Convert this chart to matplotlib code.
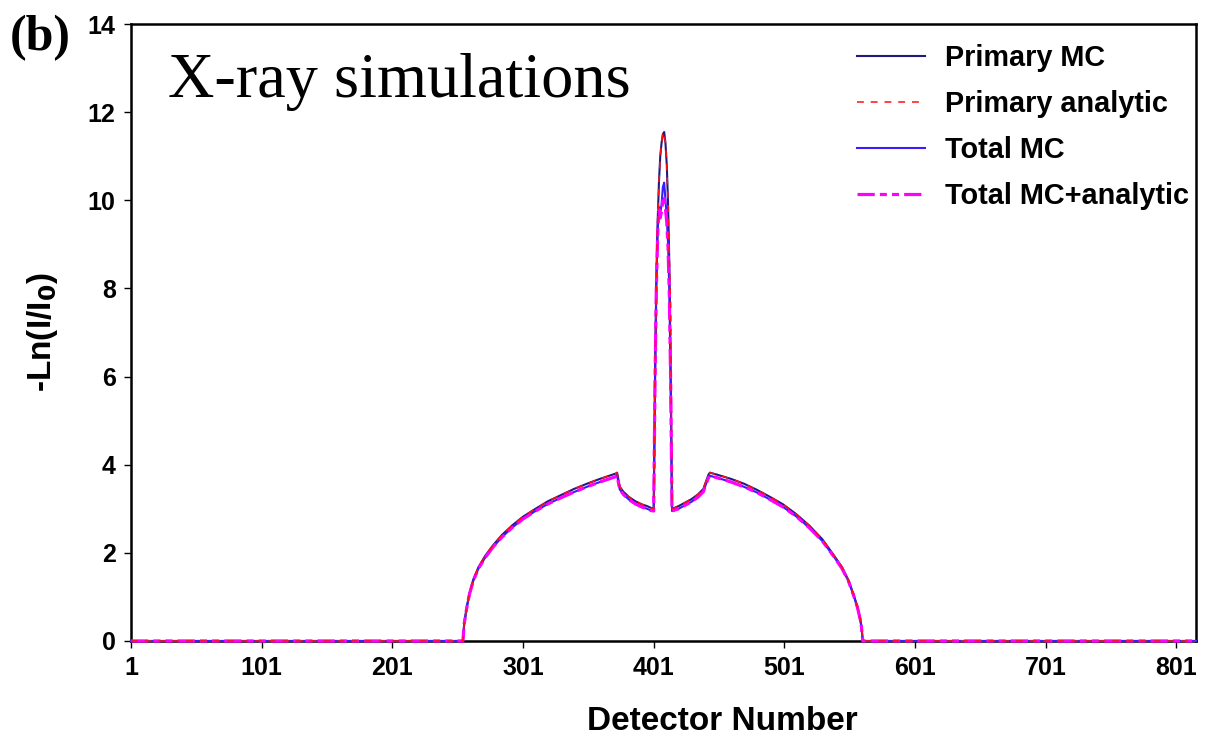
#!/usr/bin/env python

"""
Detector profiles for the X-ray simulations: primary and total signal,
Monte Carlo against the analytic model, plotted as -Ln(I/I0) per detector.
"""
import matplotlib.pyplot as plt

# detector positions sampled across the fan
det = [1, 255, 256, 258, 260, 263, 267, 272, 278, 285, 293, 301, 310, 320, 330,
       340, 350, 360, 366, 372, 373, 375, 378, 382, 387, 392, 396, 399, 401,
       402, 403, 404, 405, 406, 407, 408, 409, 410, 411, 412, 413, 414, 415,
       416, 420, 425, 430, 435, 439, 441, 443, 444, 450, 460, 470, 480, 490,
       500, 510, 520, 530, 538, 545, 550, 554, 557, 559, 560, 561, 816]

primary_mc = [0.0, 0.0, 0.40, 0.78, 1.08, 1.40, 1.68, 1.93, 2.17, 2.41, 2.63, 2.82,
              2.99, 3.17, 3.31, 3.45, 3.57, 3.68, 3.74, 3.80, 3.82, 3.50, 3.38,
              3.27, 3.17, 3.10, 3.06, 3.02, 3.00,
              6.0, 8.2, 9.5, 10.4, 11.0, 11.3, 11.5, 11.55, 11.3, 10.8, 9.9, 8.5,
              6.0, 3.0,
              3.01, 3.06, 3.14, 3.22, 3.33, 3.45, 3.62, 3.78, 3.82, 3.77, 3.68,
              3.57, 3.43, 3.27, 3.10, 2.88, 2.62, 2.31, 1.98, 1.68, 1.38, 1.05,
              0.76, 0.50, 0.32, 0.0, 0.0]

primary_analytic = [0.0, 0.0, 0.40, 0.78, 1.08, 1.40, 1.68, 1.93, 2.17, 2.41, 2.63, 2.82,
                    2.99, 3.17, 3.31, 3.45, 3.57, 3.68, 3.74, 3.80, 3.82, 3.50, 3.38,
                    3.27, 3.17, 3.10, 3.06, 3.02, 3.00,
                    6.0, 8.2, 9.5, 10.4, 11.0, 11.3, 11.5, 11.55, 11.3, 10.8, 9.9, 8.6,
                    7.6, 3.0,
                    3.01, 3.06, 3.14, 3.22, 3.33, 3.45, 3.62, 3.78, 3.82, 3.77, 3.68,
                    3.57, 3.43, 3.27, 3.10, 2.88, 2.62, 2.31, 1.98, 1.68, 1.38, 1.05,
                    0.76, 0.50, 0.32, 0.0, 0.0]

total_mc = [0.0, 0.0, 0.39, 0.76, 1.06, 1.37, 1.65, 1.89, 2.13, 2.36, 2.58, 2.77,
            2.94, 3.11, 3.25, 3.38, 3.50, 3.61, 3.67, 3.73, 3.75, 3.44, 3.32,
            3.21, 3.11, 3.04, 3.00, 2.96, 2.95,
            5.8, 8.0, 9.3, 9.85, 9.7, 9.9, 10.3, 10.4, 10.0, 9.6, 9.0, 7.9,
            5.7, 2.95,
            2.96, 3.00, 3.08, 3.16, 3.27, 3.39, 3.56, 3.71, 3.75, 3.70, 3.61,
            3.50, 3.37, 3.21, 3.04, 2.83, 2.57, 2.27, 1.95, 1.65, 1.36, 1.03,
            0.75, 0.49, 0.31, 0.0, 0.0]

total_mc_analytic = [0.0, 0.0, 0.39, 0.76, 1.06, 1.37, 1.65, 1.89, 2.13, 2.36, 2.58, 2.77,
                     2.94, 3.11, 3.25, 3.38, 3.50, 3.61, 3.67, 3.73, 3.75, 3.44, 3.32,
                     3.21, 3.11, 3.04, 3.00, 2.96, 2.95,
                     5.9, 8.0, 9.2, 9.8, 9.6, 9.75, 10.0, 10.1, 9.8, 9.5, 8.9, 7.8,
                     5.8, 2.95,
                     2.96, 3.00, 3.08, 3.16, 3.27, 3.39, 3.56, 3.71, 3.75, 3.70, 3.61,
                     3.50, 3.37, 3.21, 3.04, 2.83, 2.57, 2.27, 1.95, 1.65, 1.36, 1.03,
                     0.75, 0.49, 0.31, 0.0, 0.0]

x_ticks = [1, 101, 201, 301, 401, 501, 601, 701, 801]
y_ticks = [0, 2, 4, 6, 8, 10, 12, 14]


def main():

    plt.rcParams['font.family'] = ['Liberation Sans', 'DejaVu Sans']
    plt.rcParams['font.weight'] = 'bold'

    fig = plt.figure(figsize=(12.16, 7.35), dpi=100)
    ax = fig.add_axes([0.1077, 0.1279, 0.8759, 0.8394])

    # solid MC lines underneath, analytic curves dashed on top
    ax.plot(det, primary_mc, color='#231a80', lw=1.5, label='Primary MC',
            clip_on=False, zorder=3)
    ax.plot(det, primary_analytic, color='#ff1010', lw=1.1,
            linestyle=(0, (4.5, 4.5)), label='Primary analytic',
            clip_on=False, zorder=5)
    ax.plot(det, total_mc, color='#3a1cff', lw=1.5, label='Total MC',
            clip_on=False, zorder=4)
    ax.plot(det, total_mc_analytic, color='#ff00ff', lw=2.3,
            linestyle=(0, (5.4, 1.6, 2.2, 1.6, 2.2, 1.6)),
            label='Total MC+analytic', clip_on=False, zorder=4.5)

    ax.set_xlim(1, 816)
    ax.set_ylim(0, 14)
    ax.set_xticks(x_ticks)
    ax.set_yticks(y_ticks)
    ax.tick_params(axis='both', direction='out', length=5, width=1,
                   labelsize=18, pad=6, right=False, top=False)
    for lab in ax.get_xticklabels() + ax.get_yticklabels():
        lab.set_fontweight('bold')
    for sp in ax.spines.values():
        sp.set_linewidth(1.8)

    ax.set_xlabel('Detector Number', fontsize=24, fontweight='bold')
    ax.xaxis.set_label_coords(0.555, -0.105)
    ax.set_ylabel(r'-Ln(I/I$_\mathbf{0}$)', fontsize=24, fontweight='bold',
                  labelpad=20)

    leg = ax.legend(loc='upper right', frameon=False, fontsize=20.8,
                    handlelength=2.35, handletextpad=0.7, labelspacing=0.62,
                    borderaxespad=0.0, bbox_to_anchor=(1.004, 0.986))
    for t in leg.get_texts():
        t.set_fontweight('bold')

    ax.text(0.035, 0.882, 'X-ray simulations', transform=ax.transAxes,
            fontsize=46.3, family='Liberation Serif', fontweight='normal')
    fig.text(0.008, 0.932, '(b)', fontsize=36, family='Liberation Serif',
             fontweight='bold')

    fig.savefig('out.png', dpi=100)


if __name__ == "__main__":
    main()
